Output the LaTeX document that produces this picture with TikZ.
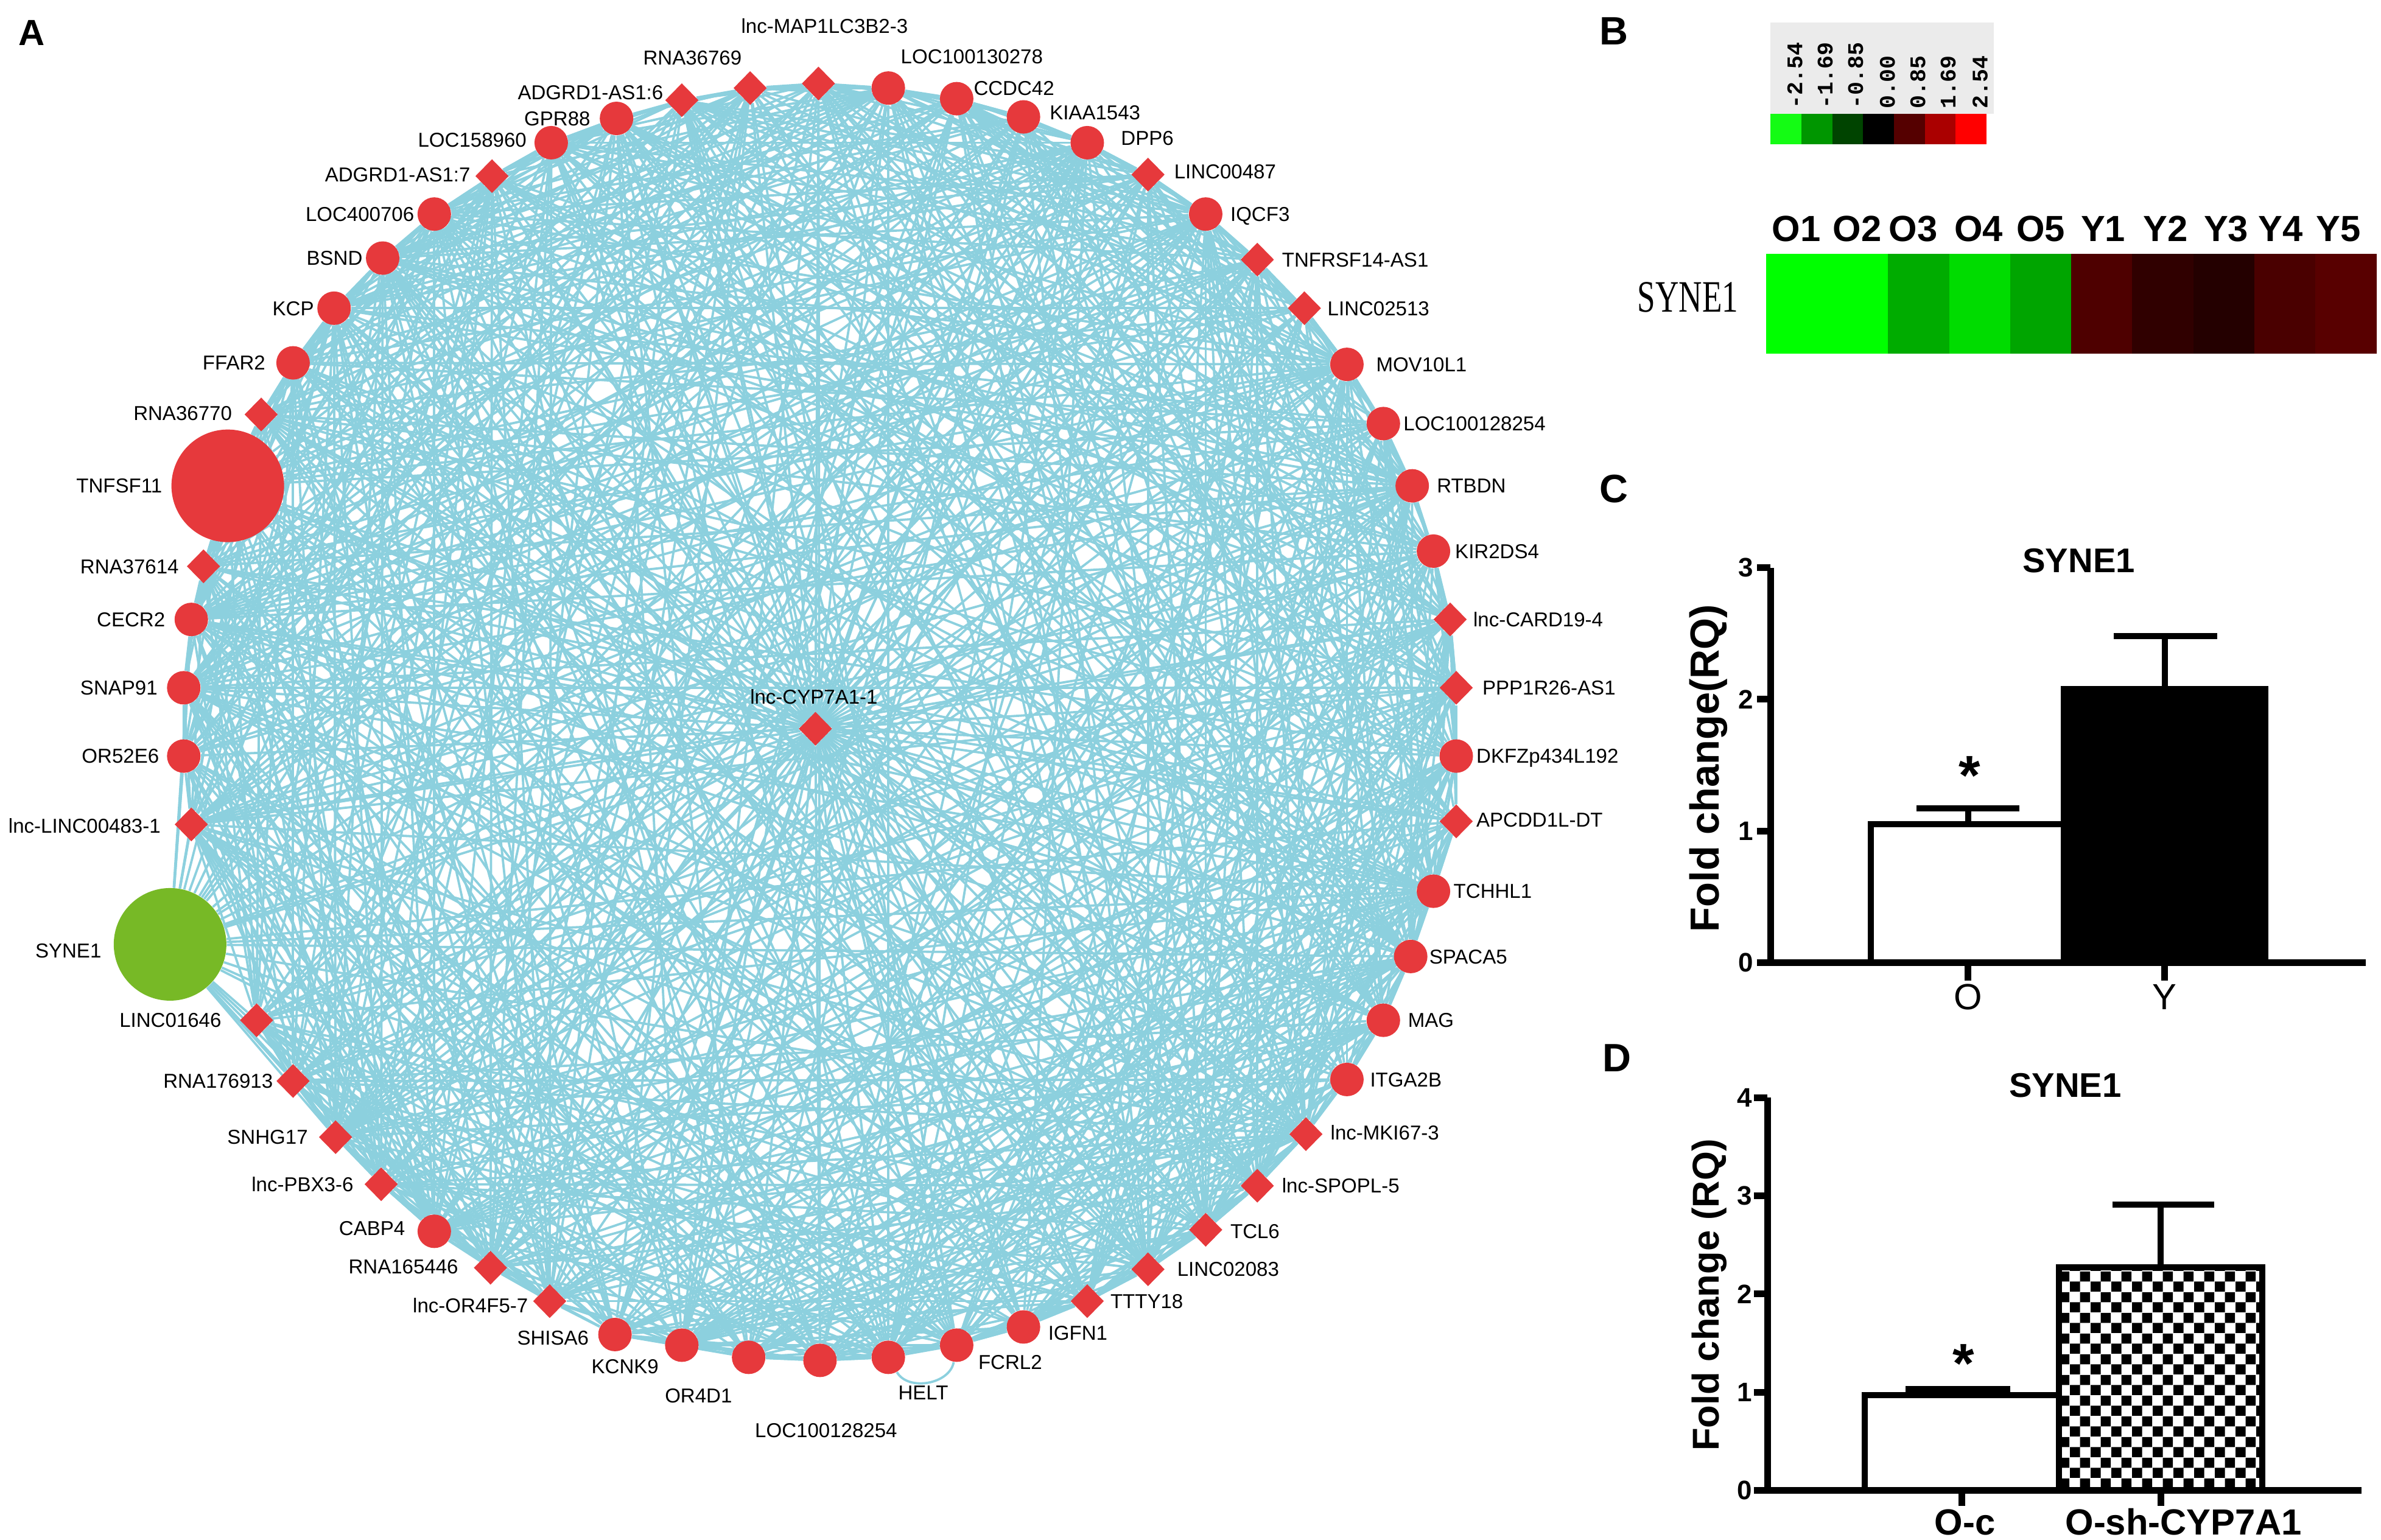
\documentclass[tikz,border=0pt]{standalone}
\usepackage{fontspec}
\setmainfont{Liberation Sans}
\newfontfamily\keyfont{Liberation Mono}
\newfontfamily\narrowserif{Liberation Serif}[FakeStretch=0.72]
\usetikzlibrary{shapes.geometric,patterns}

\definecolor{linkblue}{RGB}{140,208,222}
\definecolor{nodered}{RGB}{230,57,60}
\definecolor{nodegreen}{RGB}{119,185,38}
\definecolor{keygray}{RGB}{235,235,235}
\definecolor{key1}{RGB}{20,252,20}
\definecolor{key2}{RGB}{0,150,0}
\definecolor{key3}{RGB}{0,68,0}
\definecolor{key4}{RGB}{0,0,0}
\definecolor{key5}{RGB}{85,0,0}
\definecolor{key6}{RGB}{170,0,0}
\definecolor{key7}{RGB}{255,0,0}
\definecolor{hmA}{RGB}{0,255,0}
\definecolor{hmB}{RGB}{0,255,0}
\definecolor{hmC}{RGB}{0,172,0}
\definecolor{hmD}{RGB}{0,220,0}
\definecolor{hmE}{RGB}{0,165,0}
\definecolor{hmF}{RGB}{78,0,0}
\definecolor{hmG}{RGB}{48,0,0}
\definecolor{hmH}{RGB}{36,0,0}
\definecolor{hmI}{RGB}{74,0,0}
\definecolor{hmJ}{RGB}{88,0,0}

\pgfdeclarelayer{bg}
\pgfsetlayers{bg,main}

\pgfdeclarepatternformonly{bigcheck}{\pgfpointorigin}{\pgfqpoint{3.4mm}{3.4mm}}{\pgfqpoint{3.4mm}{3.4mm}}{%
  \pgfpathrectangle{\pgfpointorigin}{\pgfqpoint{1.7mm}{1.7mm}}%
  \pgfpathrectangle{\pgfqpoint{1.7mm}{1.7mm}}{\pgfqpoint{1.7mm}{1.7mm}}%
  \pgfusepath{fill}}

\begin{document}
\begin{tikzpicture}[x=0.2494mm, y=-0.2494mm,
    gene/.style={circle, fill=nodered, inner sep=0pt, minimum size=5.5mm},
    lnc/.style={diamond, fill=nodered, inner sep=0pt, minimum width=5.5mm, minimum height=5.6mm},
    bigred/.style={circle, fill=nodered, inner sep=0pt, minimum size=18.5mm},
    biggreen/.style={circle, fill=nodegreen, inner sep=0pt, minimum size=18.5mm},
    lbl/.style={font=\fontsize{9.4}{11}\selectfont, inner sep=0pt, text height=6.7pt, text depth=0pt},
    link/.style={draw=linkblue, line width=0.38mm},
    panel/.style={font=\fontsize{18.5}{20}\selectfont\bfseries, inner sep=0pt, anchor=base west},
    keylbl/.style={font=\keyfont\bfseries\fontsize{10.4}{12}\selectfont, inner sep=0pt, rotate=90, anchor=west},
    sample/.style={font=\fontsize{17}{19}\selectfont\bfseries, inner sep=0pt, anchor=base},
    title/.style={font=\fontsize{16}{18}\selectfont\bfseries, inner sep=0pt, anchor=base},
    axisline/.style={line width=1.1mm},
    barline/.style={line width=1mm},
    errbar/.style={line width=1mm},
    ticklbl/.style={font=\fontsize{12.5}{14}\selectfont\bfseries, inner sep=0pt, anchor=east, text depth=0pt},
    starlbl/.style={font=\fontsize{26}{28}\selectfont\bfseries, inner sep=0pt, anchor=north},
    ylbl/.style={inner sep=0pt, rotate=90, anchor=base}]

    \useasboundingbox (0,0) rectangle (1568,1014);

    % A: co-expression network, nodes on a ring
    \node[panel, font=\fontsize{17}{19}\selectfont\bfseries] (labA) at (12,30) {A};
    \foreach \k/\x/\y/\s/\a/\lx/\ly/\t in {
        1/539/55/lnc/center/543/17/lnc-MAP1LC3B2-3,
        2/585/58/gene/center/640/37/LOC100130278,
        3/630/65/gene/west/641/58/CCDC42,
        4/674/77/gene/west/691/74/KIAA1543,
        5/716/94/gene/west/738/91/DPP6,
        6/756/115/lnc/west/773/113/LINC00487,
        7/794/141/gene/west/810/141/IQCF3,
        8/828/171/lnc/west/844/171/TNFRSF14-AS1,
        9/859/203/lnc/west/874/203/LINC02513,
        10/887/240/gene/west/906/240/MOV10L1,
        11/911/279/gene/west/924/279/LOC100128254,
        12/930/320/gene/west/946/320/RTBDN,
        13/944/363/gene/west/958/363/KIR2DS4,
        14/955/408/lnc/west/970/408/lnc-CARD19-4,
        15/959/453/lnc/west/976/453/PPP1R26-AS1,
        16/959/498/gene/west/972/498/DKFZp434L192,
        17/959/541/lnc/west/972/540/APCDD1L-DT,
        18/944/587/gene/west/957/587/TCHHL1,
        19/929/630/gene/west/941/630/SPACA5,
        20/911/672/gene/west/927/672/MAG,
        21/887/711/gene/west/902/711/ITGA2B,
        22/860/747/lnc/west/876/746/lnc-MKI67-3,
        23/828/781/lnc/west/844/781/lnc-SPOPL-5,
        24/794/810/lnc/west/810/811/TCL6,
        25/756/836/lnc/west/775/836/LINC02083,
        26/716/857/lnc/west/731/857/TTTY18,
        27/674/874/gene/west/690/878/IGFN1,
        28/630/886/gene/west/644/897/FCRL2,
        29/585/894/gene/center/608/917/HELT,
        30/540/896/gene/center/544/942/LOC100128254,
        31/493/894/gene/center/460/919/OR4D1,
        32/449/886/gene/east/434/900/KCNK9,
        33/405/879/gene/east/388/881/SHISA6,
        34/362/857/lnc/east/348/860/lnc-OR4F5-7,
        35/323/835/lnc/east/302/834/RNA165446,
        36/286/811/gene/east/267/809/CABP4,
        37/251/780/lnc/east/233/780/lnc-PBX3-6,
        38/221/749/lnc/east/203/749/SNHG17,
        39/193/712/lnc/east/180/712/RNA176913,
        40/169/672/lnc/east/146/672/LINC01646,
        41/112/622/biggreen/east/67/626/SYNE1,
        42/126/543/lnc/east/106/544/lnc-LINC00483-1,
        43/121/498/gene/east/105/498/OR52E6,
        44/121/453/gene/east/104/453/SNAP91,
        45/126/408/gene/east/109/408/CECR2,
        46/134/373/lnc/east/118/373/RNA37614,
        47/150/320/bigred/east/107/320/TNFSF11,
        48/172/273/lnc/east/153/272/RNA36770,
        49/193/239/gene/east/175/239/FFAR2,
        50/220/203/gene/east/207/203/KCP,
        51/252/170/gene/east/239/170/BSND,
        52/286/141/gene/east/273/141/LOC400706,
        53/324/116/lnc/east/310/115/ADGRD1-AS1:7,
        54/363/94/gene/east/347/92/LOC158960,
        55/406/78/gene/east/389/78/GPR88,
        56/449/66/lnc/east/437/61/ADGRD1-AS1:6,
        57/494/58/lnc/center/456/38/RNA36769}{
        \node[\s] (n\k) at (\x,\y) {};
        \node[lbl, anchor=\a] (t\k) at (\lx,\ly) {\t};
    }
    % the hub in the middle
    \node[lnc] (cyp) at (537,480) {};
    \node[lbl] (tcyp) at (536,459) {lnc-CYP7A1-1};

    % edges behind the nodes
    \begin{pgfonlayer}{bg}
        \foreach \k in {1,...,57} \draw[link] (cyp) -- (n\k);
        \foreach \k in {1,...,57}{
            \pgfmathtruncatemacro{\m}{mod(\k,57)+1}
            \pgfmathtruncatemacro{\mm}{mod(\k+1,57)+1}
            \draw[link] (n\k) -- (n\m) (n\k) -- (n\mm);
        }
        \foreach \i in {1,...,56}{
            \pgfmathtruncatemacro{\js}{\i+1}
            \foreach \j in {\js,...,57}{
                \pgfmathtruncatemacro{\h}{mod(mod(\i*\i,23)*\j+mod(\j*\j,19)*\i+\i+\j,13)}
                \ifnum\h<6 \draw[link] (n\i) -- (n\j);\fi
            }
        }
        \draw[link] (n29) to[bend right=70] (n28);
    \end{pgfonlayer}

    % B: colour key and heat map row
    \node[panel] (labB) at (1053,29.6) {B};
    \fill[keygray] (1166,15) rectangle (1313,75);
    \foreach \c [count=\n from 0] in {key1,key2,key3,key4,key5,key6,key7}
        \fill[\c] ({1166+20.3*\n},75) rectangle ++(20.3,20);
    \foreach \v/\x [count=\n] in {-2.54/1182,-1.69/1202,-0.85/1222,0.00/1243,0.85/1263,1.69/1283,2.54/1304}
        \node[keylbl] (key\n) at (\x,72) {\v};
    \foreach \t/\x in {O1/1183,O2/1223,O3/1260,O4/1303,O5/1344,Y1/1385,Y2/1426,Y3/1466,Y4/1502,Y5/1540}
        \node[sample] (s\t) at (\x,159) {\t};
    \foreach \c [count=\n from 0] in {hmA,hmB,hmC,hmD,hmE,hmF,hmG,hmH,hmI,hmJ}
        \fill[\c] ({1163+40.2*\n},167) rectangle ++(40.2,66);
    \node[font=\narrowserif\fontsize{21}{24}\selectfont, inner sep=0pt, anchor=base] (hmrow) at (1111.5,205.3) {SYNE1};

    % C: qPCR, O vs Y
    \node[panel] (labC) at (1053,331) {C};
    \node[title] (titC) at (1369,377) {SYNE1};
    \draw[barline, fill=white] (1232,634) rectangle (1359,543);
    \draw[barline, fill=black] (1359,634) rectangle (1492,453.7);
    \draw[errbar] (1296,543) -- (1296,532.6) (1262,532.6) -- (1330,532.6);
    \draw[errbar] (1425.5,453.7) -- (1425.5,419) (1392,419) -- (1460,419);
    \draw[axisline] (1166,374) -- (1166,634) -- (1558,634);
    \foreach \v in {0,...,3}{
        \draw[axisline] (1157,{634-86.7*\v}) -- (1166,{634-86.7*\v});
        \node[ticklbl] (cy\v) at (1155,{634-86.7*\v}) {\v};
    }
    \draw[axisline] (1296,634) -- (1296,646) (1425.5,634) -- (1425.5,646);
    \node[font=\fontsize{17}{19}\selectfont, inner sep=0pt, anchor=base] (cxo) at (1296,665) {O};
    \node[font=\fontsize{17}{19}\selectfont, inner sep=0pt, anchor=base] (cxy) at (1425.5,665) {Y};
    \node[starlbl] (cst) at (1297,498) {*};
    \node[ylbl, font=\fontsize{19}{21}\selectfont\bfseries] (cyl) at (1132,506) {Fold change(RQ)};

    % D: qPCR after knock-down
    \node[panel] (labD) at (1055,706) {D};
    \node[title] (titD) at (1360,722.5) {SYNE1};
    \draw[barline, fill=white] (1228,981.6) rectangle (1356,918.9);
    \draw[errbar] (1292,918.9) -- (1292,914.7) (1255,914.7) -- (1324,914.7);
    \fill[pattern=bigcheck] (1356,981.6) rectangle (1490,834.8);
    \draw[barline] (1356,981.6) rectangle (1490,834.8);
    \draw[errbar] (1423,834.8) -- (1423,793.5) (1391,793.5) -- (1458,793.5);
    \draw[axisline] (1164,723) -- (1164,981.6) -- (1555,981.6);
    \foreach \v in {0,...,4}{
        \draw[axisline] (1155,{981.6-64.65*\v}) -- (1164,{981.6-64.65*\v});
        \node[ticklbl] (dy\v) at (1154,{981.6-64.65*\v}) {\v};
    }
    \draw[axisline] (1292,981.6) -- (1292,992) (1423,981.6) -- (1423,992);
    \node[sample] (dxo) at (1294,1011) {O-c};
    \node[sample] (dxs) at (1438,1011) {O-sh-CYP7A1};
    \node[starlbl] (dst) at (1293,885) {*};
    \node[ylbl, font=\fontsize{17.5}{20}\selectfont\bfseries] (dyl) at (1132,853) {Fold change (RQ)};
\end{tikzpicture}
\end{document}
